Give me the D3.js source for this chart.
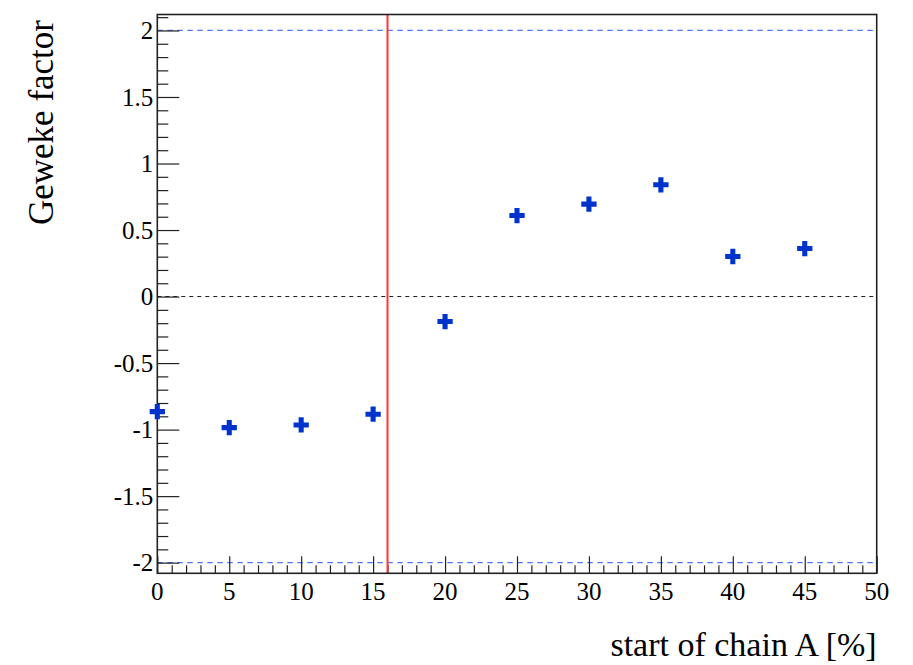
<!DOCTYPE html>
<html><head><meta charset="utf-8">
<script src="https://cdn.jsdelivr.net/npm/d3@7"></script>
<style>body{margin:0;background:#fff}svg{display:block}text{font-family:"Liberation Serif","Times New Roman",serif;fill:#000}</style>
</head><body><svg id="c" width="913" height="665"></svg>
<script>
const startPct = [0, 5, 10, 15, 20, 25, 30, 35, 40, 45];
const gewekeValues = [-0.865, -0.985, -0.965, -0.884, -0.188, 0.609, 0.695, 0.840, 0.301, 0.361];
const xMajorTicks = [0, 5, 10, 15, 20, 25, 30, 35, 40, 45, 50];
const yMajorTicks = [-2, -1.5, -1, -0.5, 0, 0.5, 1, 1.5, 2];
const yTickLabels = ["-2", "-1.5", "-1", "-0.5", "0", "0.5", "1", "1.5", "2"];
const xTitle = "start of chain A [%]";
const yTitle = "Geweke factor";
const cutLine = 16;
const limits = [-2, 2];

const L = 157.3, R = 876.7, T = 14.5, B = 573.3;
const svg = d3.select("#c");
const x = d3.scaleLinear().domain([0, 50]).range([L, R]);
const y = d3.scaleLinear().domain([-2.08, 2.12]).range([B, T]);

// limit lines
limits.forEach(v => {
  svg.append("line").attr("x1", L).attr("x2", R).attr("y1", y(v)).attr("y2", y(v))
    .attr("stroke", "#4d75ff").attr("stroke-width", 1.3).attr("stroke-dasharray", "5.5,4.5");
});
// zero line
svg.append("line").attr("x1", L).attr("x2", R).attr("y1", y(0)).attr("y2", y(0))
  .attr("stroke", "#222").attr("stroke-width", 1.1).attr("stroke-dasharray", "4,4");

// axes ticks
const minorY = d3.range(-20, 22).map(i => i / 10).filter(v => !yMajorTicks.some(m => Math.abs(m - v) < 1e-9));
const yAxisMajor = d3.axisRight(y).tickValues(yMajorTicks).tickSize(22).tickFormat("");
const yAxisMinor = d3.axisRight(y).tickValues(minorY).tickSize(11).tickFormat("");
const gy1 = svg.append("g").attr("transform", `translate(${L},0)`).call(yAxisMajor);
const gy2 = svg.append("g").attr("transform", `translate(${L},0)`).call(yAxisMinor);
const minorX = d3.range(0, 51).filter(v => v % 5 !== 0);
const xAxisMajor = d3.axisTop(x).tickValues(xMajorTicks).tickSize(17).tickFormat("");
const xAxisMinor = d3.axisTop(x).tickValues(minorX).tickSize(8).tickFormat("");
const gx1 = svg.append("g").attr("transform", `translate(0,${B})`).call(xAxisMajor);
const gx2 = svg.append("g").attr("transform", `translate(0,${B})`).call(xAxisMinor);
[gy1, gy2, gx1, gx2].forEach(g => {
  g.select(".domain").remove();
  g.selectAll(".tick line").attr("stroke", "#222").attr("stroke-width", 1.2);
});

// tick labels
svg.append("g").selectAll("text").data(yMajorTicks).join("text")
  .attr("x", L - 4).attr("y", d => y(d)).attr("dy", "0.35em")
  .attr("text-anchor", "end").attr("font-size", 25)
  .text((d, i) => yTickLabels[i]);
svg.append("g").selectAll("text").data(xMajorTicks).join("text")
  .attr("x", d => x(d)).attr("y", 600)
  .attr("text-anchor", "middle").attr("font-size", 25)
  .text(d => d);

// red cut line
svg.append("line").attr("x1", x(cutLine)).attr("x2", x(cutLine)).attr("y1", T).attr("y2", B)
  .attr("stroke", "#ff3535").attr("stroke-width", 2);

// frame
svg.append("rect").attr("x", L).attr("y", T).attr("width", R - L).attr("height", B - T)
  .attr("fill", "none").attr("stroke", "#222").attr("stroke-width", 1.6);

// points
const sym = d3.symbol().type(d3.symbolCross).size(130);
svg.append("g").selectAll("path").data(startPct).join("path")
  .attr("d", sym)
  .attr("transform", (d, i) => `translate(${x(d)},${y(gewekeValues[i])})`)
  .attr("fill", "#0033cc");

// titles
svg.append("text").attr("x", R).attr("y", 656).attr("text-anchor", "end")
  .attr("font-size", 34).text(xTitle);
svg.append("text").attr("transform", "translate(53,20) rotate(-90)")
  .attr("text-anchor", "end").attr("font-size", 35).text(yTitle);
</script></body></html>
